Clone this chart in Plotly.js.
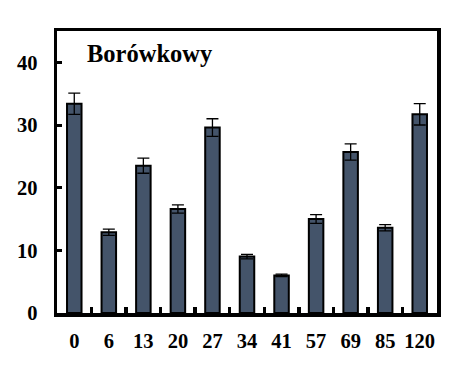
<!DOCTYPE html>
<html>
<head>
<meta charset="utf-8">
<script src="https://cdn.plot.ly/plotly-3.0.1.min.js"></script>
<style>html,body{margin:0;padding:0;background:#fff;}#chart{width:454px;height:392px;}</style>
</head>
<body>
<div id="chart"></div>
<script>
const categories = ["0", "6", "13", "20", "27", "34", "41", "57", "69", "85", "120"];
const values = [33.4, 12.9, 23.5, 16.6, 29.6, 9.0, 6.0, 15.0, 25.7, 13.6, 31.7];
const errors = [1.7, 0.5, 1.2, 0.65, 1.4, 0.35, 0.2, 0.7, 1.3, 0.5, 1.7];
const titleText = "Borówkowy";

const fam = "Liberation Serif, Times New Roman, serif";

Plotly.newPlot("chart", [{
  type: "bar",
  x: categories,
  y: values,
  marker: {color: "#44546A", line: {color: "#000", width: 2}},
  error_y: {type: "data", array: errors, visible: true, color: "#000", thickness: 1.3, width: 6},
  hoverinfo: "skip"
}], {
  width: 454, height: 392,
  margin: {l: 57, r: 17, t: 31, b: 79},
  paper_bgcolor: "#fff", plot_bgcolor: "#fff",
  bargap: 0.58,
  showlegend: false,
  font: {family: fam, size: 20, color: "#000"},
  xaxis: {
    type: "category",
    showline: true, linecolor: "#000", linewidth: 3.5, mirror: true,
    ticks: "inside", tickson: "boundaries", ticklen: 6, tickwidth: 3.5, tickcolor: "#000",
    showgrid: false, zeroline: false, tickangle: 0,
    tickfont: {family: fam, size: 20.5, color: "#000", weight: "bold"},
    ticklabelstandoff: 7
  },
  yaxis: {
    range: [0, 45], tickvals: [0, 10, 20, 30, 40],
    showline: true, linecolor: "#000", linewidth: 3.5, mirror: true,
    ticks: "inside", ticklen: 5, tickwidth: 3, tickcolor: "#000",
    showgrid: false, zeroline: false,
    tickfont: {family: fam, size: 20.5, color: "#000", weight: "bold"},
    ticklabelstandoff: 12
  },
  annotations: [{
    text: "<b>" + titleText + "</b>",
    xref: "paper", yref: "paper", x: 0.245, y: 0.92,
    xanchor: "center", yanchor: "middle", showarrow: false,
    font: {family: fam, size: 24.5, color: "#000"}
  }]
}, {staticPlot: true, displayModeBar: false});
</script>
</body>
</html>
